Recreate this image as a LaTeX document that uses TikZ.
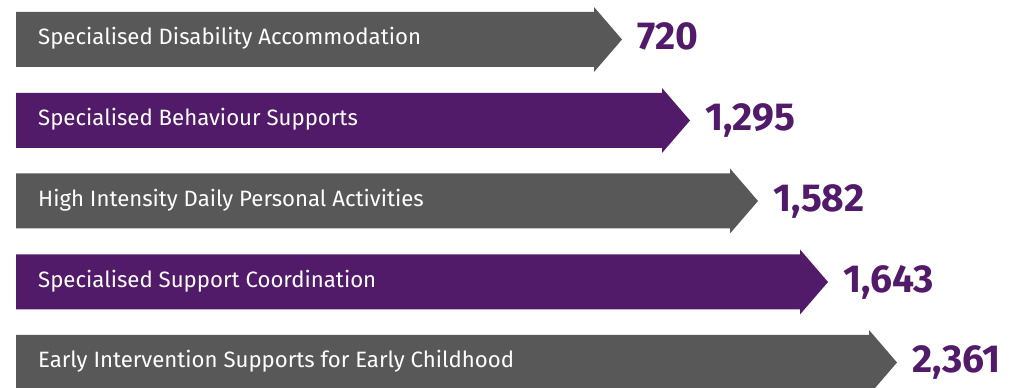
\documentclass[tikz,border=0pt]{standalone}
\usepackage{fontspec}
\setmainfont{Fira Sans}
\definecolor{bargray}{HTML}{575857}
\definecolor{barpurple}{HTML}{521B69}
\tikzset{
  lbl/.style={anchor=base west, text=white, inner sep=0pt, font=\fontsize{22.2}{22.2}\selectfont},
  num/.style={anchor=base west, text=barpurple, inner sep=0pt, font=\fontsize{39}{39}\selectfont\bfseries},
}
\newcommand{\arrowbar}[6]{% name, colour, yc(image), xhead, label, number
  \fill[#2] (16,{388-#3+27.5}) -- (#4,{388-#3+27.5}) -- (#4,{388-#3+32.5}) -- ({#4+28},{388-#3}) -- (#4,{388-#3-32.5}) -- (#4,{388-#3-27.5}) -- (16,{388-#3-27.5}) -- cycle;
  \node[lbl] (#1l) at (38,{388-#3-5.5}) {#5};
  \node[num] (#1n) at ({#4+43},{388-#3-10.5}) {#6};
}
\begin{document}
\begin{tikzpicture}[x=1pt,y=1pt]
\useasboundingbox (0,0) rectangle (1020,388);
\clip (0,0) rectangle (1020,388);
\arrowbar{a}{bargray}{39.5}{594}{Specialised Disability Accommodation}{720}
\arrowbar{b}{barpurple}{120.5}{662}{Specialised Behaviour Supports}{1,295}
\arrowbar{c}{bargray}{201}{730}{High Intensity Daily Personal Activities}{1,582}
\arrowbar{d}{barpurple}{282}{800}{Specialised Support Coordination}{1,643}
\arrowbar{e}{bargray}{362.5}{869}{Early Intervention Supports for Early Childhood}{2,361}
\end{tikzpicture}
\end{document}
